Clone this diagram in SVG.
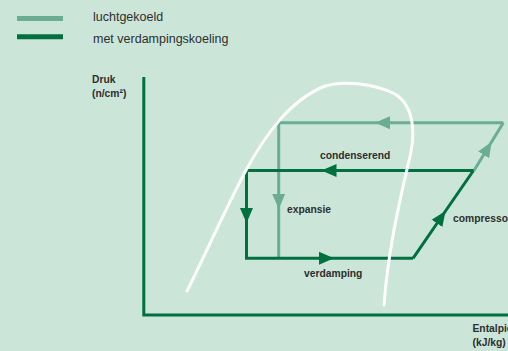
<svg xmlns="http://www.w3.org/2000/svg" width="508" height="351" viewBox="0 0 508 351">
  <style>
    .bg { fill: #cbe6d8; }
    .dark { stroke: #00703f; stroke-width: 3; fill: none; stroke-linejoin: miter; }
    .light { stroke: #6aac94; stroke-width: 3; fill: none; stroke-linejoin: miter; }
    .curve { stroke: #ffffff; stroke-width: 3; fill: none; stroke-linecap: round; }
    .legend { font-family: "Liberation Sans", Arial, sans-serif; font-size: 12.5px; fill: #2e2e2e; }
    .lbl { font-family: "Liberation Sans", Arial, sans-serif; font-size: 10.3px; font-weight: bold; fill: #2e2e2e; }
  </style>
  <defs>
    <marker id="arrDark" viewBox="-15 -7 16 14" refX="0" refY="0" markerWidth="16" markerHeight="14" markerUnits="userSpaceOnUse" orient="auto">
      <path d="M0,0 L-15,-6.5 L-15,6.5 Z" fill="#00703f"/>
    </marker>
    <marker id="arrLight" viewBox="-15 -7 16 14" refX="0" refY="0" markerWidth="16" markerHeight="14" markerUnits="userSpaceOnUse" orient="auto">
      <path d="M0,0 L-15,-6.5 L-15,6.5 Z" fill="#6aac94"/>
    </marker>
  </defs>
  <rect class="bg" x="0" y="0" width="508" height="351"/>

  <g id="legend">
    <line x1="17" y1="18.5" x2="63" y2="18.5" stroke="#6aac94" stroke-width="5"/>
    <line x1="17" y1="36.8" x2="63" y2="36.8" stroke="#00703f" stroke-width="5"/>
    <text class="legend" x="93" y="21">luchtgekoeld</text>
    <text class="legend" x="93" y="43">met verdampingskoeling</text>
  </g>

  <g id="axes">
    <path class="dark" d="M143.8,77 L143.8,315 L508,315"/>
    <text class="lbl" x="92" y="83">Druk</text>
    <text class="lbl" x="92" y="97">(n/cm²)</text>
    <text class="lbl" x="472.5" y="332">Entalpie</text>
    <text class="lbl" x="472.5" y="345.5">(kJ/kg)</text>
  </g>

  <g id="connectors">
    <!-- luchtgekoeld cycle -->
    <path class="light" d="M474,170.5 L491.5,142 L503.3,122.8" marker-mid="url(#arrLight)"/>
    <path class="light" d="M503.3,122.8 L375,122.8 L278.7,122.8" marker-mid="url(#arrLight)"/>
    <path class="light" d="M278.7,121.3 L278.7,209 L278.7,258.3" marker-mid="url(#arrLight)"/>
    <!-- verdampingskoeling cycle -->
    <path class="dark" d="M473.5,170.5 L321.5,170.5 L245,170.5" marker-mid="url(#arrDark)"/>
    <path class="dark" d="M246.5,169 L246.5,223 L246.5,258.3" marker-mid="url(#arrDark)"/>
    <path class="dark" d="M245,258.3 L334,258.3 L413,258.3" marker-mid="url(#arrDark)"/>
    <path class="dark" d="M413,258.3 L445.5,211 L473.5,170.5" marker-mid="url(#arrDark)"/>
  </g>

  <g id="saturation-curve">
    <path class="curve" d="M187,291 C205,255 225,210 245,172 C265,135 290,100 325,86 C345,80 375,84 395,94 C417,108 415,140 408,165 C400,200 388,250 384,305"/>
  </g>

  <g id="labels">
    <text class="lbl" x="320" y="159">condenserend</text>
    <text class="lbl" x="287" y="213">expansie</text>
    <text class="lbl" x="304" y="277">verdamping</text>
    <text class="lbl" x="453" y="222">compressor</text>
  </g>
</svg>
